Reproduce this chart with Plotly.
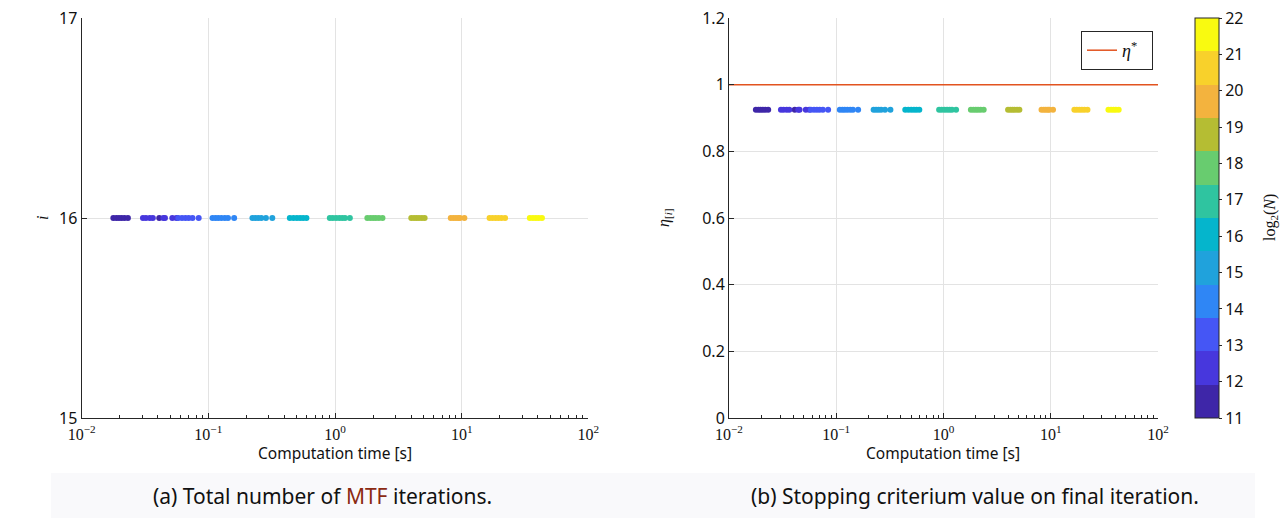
import plotly.graph_objects as go

W, H = 1288, 519

# ---------------- data ----------------
log2N = [11, 12, 13, 14, 15, 16, 17, 18, 19, 20, 21, 22]
times = {
    11: [0.0178, 0.0188, 0.0197, 0.0207, 0.0218, 0.0232, 0.041],
    12: [0.0305, 0.0322, 0.0345, 0.0365, 0.0442, 0.0455, 0.052, 0.056],
    13: [0.058, 0.062, 0.066, 0.070, 0.075, 0.084],
    14: [0.108, 0.114, 0.120, 0.127, 0.135, 0.143, 0.160],
    15: [0.223, 0.235, 0.248, 0.262, 0.285, 0.320],
    16: [0.44, 0.47, 0.50, 0.53, 0.56, 0.595],
    17: [0.91, 0.96, 1.02, 1.08, 1.14, 1.20, 1.31],
    18: [1.80, 1.90, 2.00, 2.10, 2.22, 2.37],
    19: [4.0, 4.2, 4.4, 4.6, 4.85, 5.1],
    20: [8.2, 8.6, 9.0, 9.4, 9.7, 10.5],
    21: [16.6, 17.5, 18.5, 19.5, 20.6, 22.0],
    22: [34.5, 36.5, 38.5, 40.5, 43.0],
}
iterations_value = 16
eta_final_value = 0.925
eta_star = 1.0
band_colors = ["#3e26a8", "#4737dd", "#4556f5", "#2f86f5", "#20a2dc", "#05b5cc",
               "#2fc4a0", "#68cc6f", "#b5bd33", "#f3b33e", "#f8d12b", "#f9fa10"]
x_tickvals = [0.01, 0.1, 1, 10, 100]
x_ticktext = ["10<sup>\u22122</sup>", "10<sup>\u22121</sup>", "10<sup>0</sup>",
              "10<sup>1</sup>", "10<sup>2</sup>"]

# ---------------- helpers ----------------
def px(x):
    return x / W

def py(y):
    return 1 - y / H

t_all, n_all = [], []
for n in log2N:
    for t in times[n]:
        t_all.append(t)
        n_all.append(n)

cs = []
for i, c in enumerate(band_colors):
    cs.append([i / 12, c])
    cs.append([(i + 1) / 12, c])

SANS = "Noto Sans"
SERIF = "Liberation Serif"
AX = "#262626"
GRID = "#e3e3e3"

fig = go.Figure()

fig.add_trace(go.Scatter(
    x=t_all, y=[iterations_value] * len(t_all), mode="markers",
    marker=dict(size=6, color=n_all, coloraxis="coloraxis", line=dict(width=0)),
    xaxis="x", yaxis="y", showlegend=False))

fig.add_trace(go.Scatter(
    x=[x_tickvals[0], x_tickvals[-1]], y=[eta_star, eta_star], mode="lines",
    line=dict(color="#e2531f", width=1.5), name="<i>\u03b7</i><sup>*</sup>  ",
    xaxis="x2", yaxis="y2", showlegend=True))

fig.add_trace(go.Scatter(
    x=t_all, y=[eta_final_value] * len(t_all), mode="markers",
    marker=dict(size=6, color=n_all, coloraxis="coloraxis", line=dict(width=0)),
    xaxis="x2", yaxis="y2", showlegend=False))

xcommon = dict(type="log", range=[-2, 2], tickvals=x_tickvals, ticktext=x_ticktext,
               tickfont=dict(family=SERIF, size=16, color="#111"),
               showline=True, linecolor=AX, linewidth=1, mirror=False,
               ticks="inside", ticklen=5, tickcolor=AX, automargin=False,
               ticklabelstandoff=2,
               showgrid=True, gridcolor=GRID, gridwidth=1, zeroline=False,
               minor=dict(ticks="inside", ticklen=3, tickcolor=AX, dtick="D1", showgrid=False))
ycommon = dict(showline=True, linecolor=AX, linewidth=1, mirror=False,
               ticks="inside", ticklen=5, tickcolor=AX, automargin=False,
               tickfont=dict(family=SANS, size=16, color="#111"),
               showgrid=True, gridcolor=GRID, gridwidth=1, zeroline=False)

y0, y1 = py(418), py(18)

fig.update_layout(
    width=W, height=H,
    margin=dict(l=0, r=0, t=0, b=0, pad=0, autoexpand=False),
    paper_bgcolor="white", plot_bgcolor="white",
    xaxis=dict(domain=[px(81.6), px(588.4)], anchor="y", **xcommon),
    yaxis=dict(domain=[y0, y1], anchor="x", range=[15, 17], tickvals=[15, 16, 17], **ycommon),
    xaxis2=dict(domain=[px(729), px(1158)], anchor="y2", **xcommon),
    yaxis2=dict(domain=[y0, y1], anchor="x2", range=[0, 1.2], dtick=0.2, **ycommon),
    coloraxis=dict(
        colorscale=cs, cmin=11, cmax=22,
        colorbar=dict(
            x=px(1195), xanchor="left", xpad=0,
            y=(y0 + y1) / 2, yanchor="middle", ypad=0,
            thickness=24, thicknessmode="pixels",
            len=400, lenmode="pixels",
            tickvals=log2N, ticks="outside", ticklen=3, tickcolor=AX,
            tickfont=dict(family=SANS, size=16, color="#111"),
            outlinewidth=1, outlinecolor=AX)),
    legend=dict(x=px(1153), xanchor="right", y=py(31), yanchor="top",
                bgcolor="white", bordercolor=AX, borderwidth=1,
                font=dict(family=SERIF, size=18, color="#111"),
                itemwidth=30),
    shapes=[dict(type="rect", xref="paper", yref="paper",
                 x0=px(51), x1=px(1255), y0=py(518), y1=py(473),
                 fillcolor="#f9f9fb", line=dict(width=0), layer="below")],
)

def note(x, y, text, family, size, angle=0, color="#111"):
    return dict(x=px(x), y=py(y), text=text, showarrow=False, textangle=angle,
                xanchor="center", yanchor="middle", xref="paper", yref="paper",
                font=dict(family=family, size=size, color=color))

ann = [
    note(335, 453, "Computation time [s]", SANS, 15.5),
    note(943.5, 453, "Computation time [s]", SANS, 15.5),
    note(42, 218, "<i>i</i>", SERIF, 16, -90),
    note(664, 218, "<i>\u03b7</i><sub>[<i>i</i>]</sub>", SERIF, 16, -90),
    note(1270, 218, "log<sub>2</sub>(<i>N</i>)", SERIF, 16, -90),
    note(322, 496, "(a) Total number of <span style='color:#8b2a12'>MTF</span> iterations.", SANS, 21),
    note(975, 496, "(b) Stopping criterium value on final iteration.", SANS, 21),
]
fig.update_layout(annotations=ann)

fig.write_html("out.html")
